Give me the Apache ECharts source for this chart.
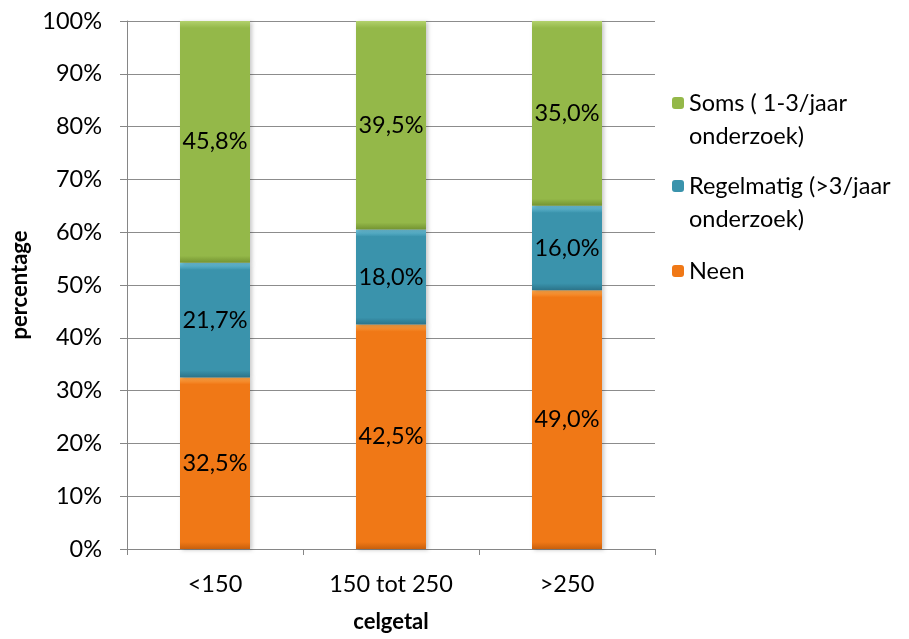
<!DOCTYPE html>
<html>
<head>
<meta charset="utf-8">
<script src="https://cdn.jsdelivr.net/npm/echarts@6/dist/echarts.min.js"></script>
<style>
  html, body { margin: 0; padding: 0; background: #fff; }
  #chart { width: 909px; height: 639px; }
</style>
</head>
<body>
<div id="chart"></div>
<script>
// Category labels along the x axis
const categories = ['<150', '150 tot 250', '>250'];

// Percentage per category for each answer
const neen = [32.5, 42.5, 49.0];
const regelmatig = [21.7, 18.0, 16.0];
const soms = [45.8, 39.5, 35.0];

// Series names shown in the legend
const nameNeen = 'Neen';
const nameRegelmatig = 'Regelmatig (>3/jaar\nonderzoek)';
const nameSoms = 'Soms ( 1-3/jaar\nonderzoek)';

const FONT = 'Lato, "Open Sans", sans-serif';
const FS = 23.5;
const PLOT_H = 528;   // plot height in px, used to keep the bevel bands a fixed thickness
const BEVEL = 7;

// Vertical gradient imitating a bevelled bar segment: light top rim, dark bottom rim
function bevelled(values, base, light, dark) {
  return values.map(v => {
    const h = v / 100 * PLOT_H;
    const f = Math.min(0.45, BEVEL / h);
    return {
      value: v,
      itemStyle: {
        color: {
          type: 'linear', x: 0, y: 0, x2: 0, y2: 1,
          colorStops: [
            { offset: 0, color: light },
            { offset: f, color: base },
            { offset: 1 - f, color: base },
            { offset: 1, color: dark }
          ]
        }
      }
    };
  });
}

const fmtPct = p => p.value.toFixed(1).replace('.', ',') + '%';

function barSeries(name, values, base, light, dark) {
  return {
    name: name,
    type: 'bar',
    stack: 'total',
    barWidth: 70,
    data: bevelled(values, base, light, dark),
    itemStyle: {
      color: base,
      shadowColor: 'rgba(0,0,0,0.22)',
      shadowBlur: 4,
      shadowOffsetX: 2,
      shadowOffsetY: 1
    },
    label: {
      show: true,
      position: 'inside',
      formatter: fmtPct,
      color: '#000',
      fontFamily: FONT,
      fontSize: FS
    }
  };
}

// One legend block per series; the leading blank line keeps the icon beside the first text line
function legendFor(name, top, twoLines) {
  return {
    left: 672,
    top: top,
    padding: 0,
    orient: 'vertical',
    itemWidth: 12,
    itemHeight: 12,
    data: [name],
    formatter: n => (twoLines ? '\n' : '') + n,
    textStyle: {
      fontFamily: FONT,
      fontSize: FS,
      color: '#000',
      lineHeight: 33
    }
  };
}

const chart = echarts.init(document.getElementById('chart'), null, { renderer: 'canvas' });

chart.setOption({
  animation: false,
  backgroundColor: '#fff',
  grid: { left: 127, right: 254, top: 21, bottom: 90, containLabel: false, outerBoundsMode: 'none' },
  legend: [
    legendFor(nameSoms, 53.5, true),
    legendFor(nameRegelmatig, 136.5, true),
    legendFor(nameNeen, 254.5, false)
  ],
  xAxis: {
    type: 'category',
    data: categories,
    name: 'celgetal',
    nameLocation: 'middle',
    nameGap: 62,
    nameTextStyle: { fontFamily: FONT, fontSize: 22, fontWeight: 'bold', color: '#000' },
    axisLine: { lineStyle: { color: '#868686', width: 1 } },
    axisTick: { show: true, length: 6, alignWithLabel: false, lineStyle: { color: '#868686' } },
    axisLabel: { margin: 23, fontFamily: FONT, fontSize: FS, color: '#000' }
  },
  yAxis: {
    type: 'value',
    min: 0,
    max: 100,
    interval: 10,
    name: 'percentage',
    nameLocation: 'middle',
    nameGap: 91,
    nameTextStyle: { fontFamily: FONT, fontSize: 22, fontWeight: 'bold', color: '#000' },
    axisLine: { show: true, lineStyle: { color: '#868686', width: 1 } },
    axisTick: { show: true, length: 7, lineStyle: { color: '#868686' } },
    splitLine: { lineStyle: { color: '#8c8c8c', width: 1 } },
    axisLabel: { margin: 25, fontFamily: FONT, fontSize: FS, color: '#000', formatter: '{value}%' }
  },
  series: [
    barSeries(nameNeen, neen, '#f07816', '#ffa84a', '#c9600c'),
    barSeries(nameRegelmatig, regelmatig, '#3a93ac', '#72c9e2', '#2b7389'),
    barSeries(nameSoms, soms, '#94b849', '#b2d16c', '#739331')
  ]
});
</script>
</body>
</html>
